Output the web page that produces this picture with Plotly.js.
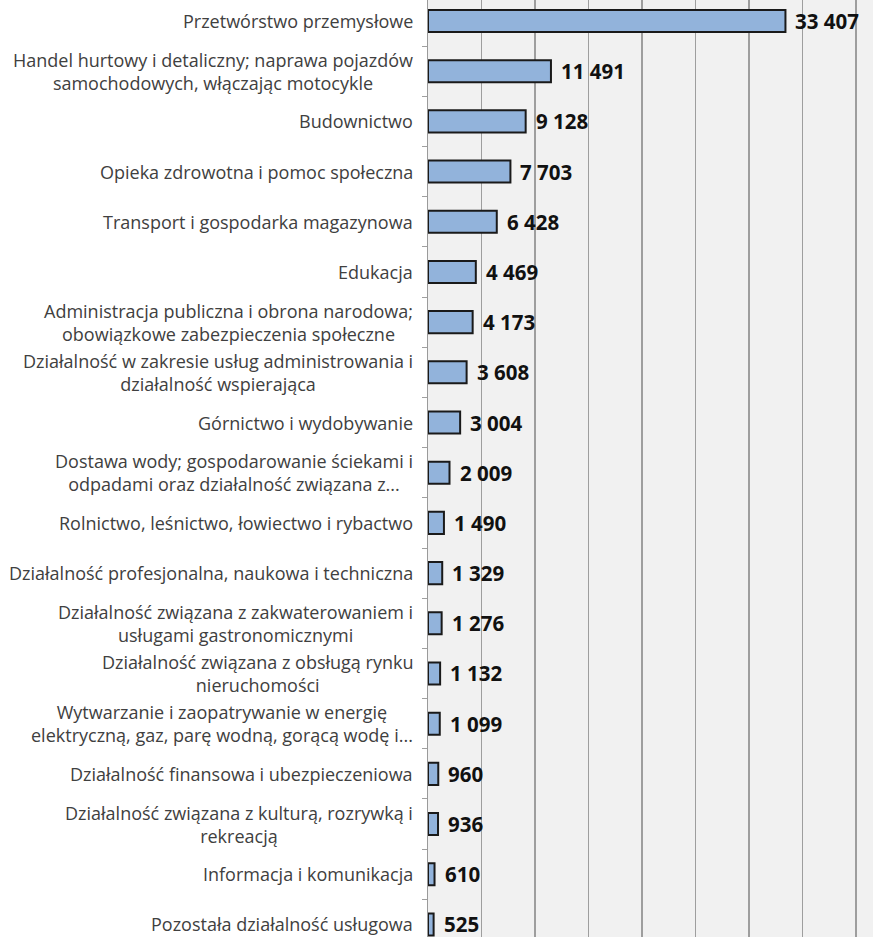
<!DOCTYPE html>
<html>
<head>
<meta charset="utf-8">
<script src="https://cdn.plot.ly/plotly-3.0.1.min.js"></script>
<style>
html,body{margin:0;padding:0;background:#ffffff;}
#chart{width:873px;height:937px;}
</style>
</head>
<body>
<div id="chart"></div>
<script>
const categories = [
  "Przetwórstwo przemysłowe",
  "Handel hurtowy i detaliczny; naprawa pojazdów<br>samochodowych, włączając motocykle",
  "Budownictwo",
  "Opieka zdrowotna i pomoc społeczna",
  "Transport i gospodarka magazynowa",
  "Edukacja",
  "Administracja publiczna i obrona narodowa;<br>obowiązkowe zabezpieczenia społeczne",
  "Działalność w zakresie usług administrowania i<br>działalność wspierająca",
  "Górnictwo i wydobywanie",
  "Dostawa wody; gospodarowanie ściekami i<br>odpadami oraz działalność związana z...",
  "Rolnictwo, leśnictwo, łowiectwo i rybactwo",
  "Działalność profesjonalna, naukowa i techniczna",
  "Działalność związana z zakwaterowaniem i<br>usługami gastronomicznymi",
  "Działalność związana z obsługą rynku<br>nieruchomości",
  "Wytwarzanie i zaopatrywanie w energię<br>elektryczną, gaz, parę wodną, gorącą wodę i...",
  "Działalność finansowa i ubezpieczeniowa",
  "Działalność związana z kulturą, rozrywką i<br>rekreacją",
  "Informacja i komunikacja",
  "Pozostała działalność usługowa"
];
const values = [33407, 11491, 9128, 7703, 6428, 4469, 4173, 3608, 3004, 2009, 1490, 1329, 1276, 1132, 1099, 960, 936, 610, 525];

function fmt(v){ return String(v).replace(/\B(?=(\d{3})+(?!\d))/g, "\u00a0"); }

const trace = {
  type: "bar",
  orientation: "h",
  x: values,
  y: categories,
  marker: {color: "#92b3db", line: {color: "#1a1a1a", width: 2}},
  hoverinfo: "skip"
};

const annotations = [];
categories.forEach((c, i) => {
  annotations.push({
    xref: "paper", yref: "y", x: 0, y: c, xanchor: "right", yanchor: "middle",
    xshift: -13, text: c, showarrow: false, align: "center",
    font: {family: "Open Sans, sans-serif", size: 18, color: "#404040"}
  });
  annotations.push({
    xref: "x", yref: "y", x: values[i], y: c, xanchor: "left", yanchor: "middle",
    xshift: 8, text: "<b>" + fmt(values[i]) + "</b>", showarrow: false,
    font: {family: "Open Sans, sans-serif", size: 20.5, color: "#111111"}
  });
});

const layout = {
  width: 873, height: 937,
  margin: {l: 428, r: 0, t: 0, b: 0, pad: 0},
  paper_bgcolor: "#ffffff",
  plot_bgcolor: "#f1f1f1",
  bargap: 0.56,
  showlegend: false,
  xaxis: {
    range: [0, 41589], dtick: 5000, tick0: 0,
    showgrid: true, gridcolor: "#9e9e9e", gridwidth: 1.5,
    zeroline: false, showticklabels: false, ticks: "", showline: false, fixedrange: true
  },
  yaxis: {
    type: "category", categoryorder: "array", categoryarray: categories,
    range: [18.25, -0.418],
    showticklabels: false, ticks: "outside", tickson: "boundaries", ticklen: 5,
    tickcolor: "#a0a0a0", tickwidth: 1,
    showline: true, linecolor: "#9a9a9a", linewidth: 1.5,
    showgrid: false, zeroline: false, fixedrange: true
  },
  annotations: annotations
};

Plotly.newPlot("chart", [trace], layout, {displayModeBar: false, staticPlot: true});
</script>
</body>
</html>
